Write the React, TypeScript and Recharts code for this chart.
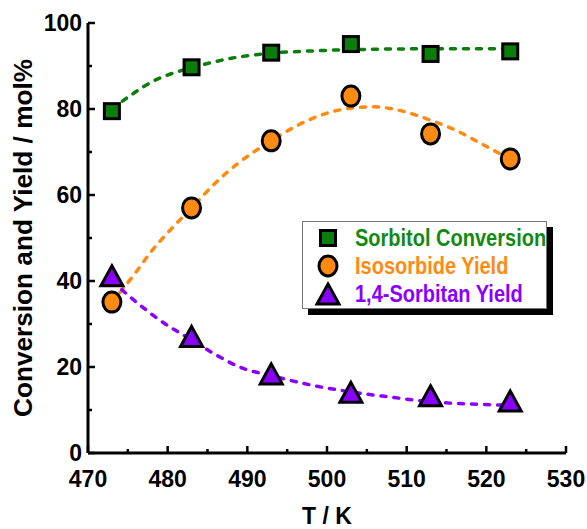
import { ComposedChart, Line, Scatter, XAxis, YAxis, Legend } from 'recharts'

// measured points
const temps = [473, 483, 493, 503, 513, 523]
const conversion = [79.5, 89.7, 93.1, 95.1, 92.8, 93.4]
const isosorbide = [35.1, 57.0, 72.6, 83.0, 74.2, 68.4]
const sorbitan = [41.2, 27.1, 18.4, 14.1, 13.3, 12.1]

// fitted curves
const convFitT = [473, 476, 478, 480, 483, 488, 493, 498, 503, 513, 523]
const convFitY = [80.0, 84.0, 86.3, 87.9, 89.6, 91.8, 93.0, 93.5, 93.8, 94.0, 94.0]
const isoFitT = [473, 476, 478, 480, 483, 486, 489, 493, 496, 499, 503, 506, 509, 513, 516, 519, 523]
const isoFitY = [35.0, 42.0, 47.0, 51.2, 57.0, 62.8, 67.6, 72.6, 75.9, 78.4, 80.2, 80.5, 79.7, 77.4, 75.2, 72.3, 68.3]
const sorbFitT = [473, 476, 479, 483, 486, 489, 493, 498, 503, 508, 513, 518, 523]
const sorbFitY = [40.0, 35.2, 30.9, 26.3, 22.9, 20.0, 18.0, 15.8, 14.2, 13.0, 11.9, 11.4, 11.1]

const xTicks = [470, 475, 480, 485, 490, 495, 500, 505, 510, 515, 520, 525, 530]
const yTicks = [0, 10, 20, 30, 40, 50, 60, 70, 80, 90, 100]

const GREEN = '#0a7d0a'
const ORANGE = '#ff8a12'
const PURPLE = '#8a00ff'
const FONT = '"Liberation Sans", Arial, sans-serif'

const pts = (xs: number[], ys: number[]) => xs.map((x, i) => ({ x, y: ys[i] }))

const Square = ({ cx, cy, size = 18, color = GREEN }: any) => (
  <rect x={cx - size / 2 + 1.5} y={cy - size / 2 + 1.5} width={size - 3} height={size - 3} fill={color} stroke="#000" strokeWidth={3} />
)
const Circle = ({ cx, cy, color = ORANGE }: any) => (
  <ellipse cx={cx} cy={cy} rx={9} ry={10} fill={color} stroke="#000" strokeWidth={3} />
)
const Triangle = ({ cx, cy, color = PURPLE }: any) => (
  <polygon points={`${cx},${cy - 10} ${cx + 11},${cy + 10} ${cx - 11},${cy + 10}`} fill={color} stroke="#000" strokeWidth={3} strokeLinejoin="miter" />
)

const XTick = ({ x, y, payload, top }: any) => {
  const major = payload.value % 10 === 0
  const len = major ? 7 : 4
  return (
    <g>
      <line x1={x} x2={x} y1={y} y2={top ? y + len : y - len} stroke="#000" strokeWidth={2.5} />
      {!top && major && (
        <text x={x} y={y + 34} textAnchor="middle" fontFamily={FONT} fontWeight="bold" fontSize={23} fill="#000">
          {payload.value}
        </text>
      )}
    </g>
  )
}

const YTick = ({ x, y, payload, right }: any) => {
  const major = payload.value % 20 === 0
  const len = major ? 7 : 4
  return (
    <g>
      <line x1={x} x2={right ? x - len : x + len} y1={y} y2={y} stroke="#000" strokeWidth={2.5} />
      {!right && major && (
        <text x={x - 6} y={y + 8} textAnchor="end" fontFamily={FONT} fontWeight="bold" fontSize={23} fill="#000">
          {payload.value}
        </text>
      )}
    </g>
  )
}

const legendItems = [
  { name: 'Sorbitol Conversion', color: '#128a12', Mark: Square },
  { name: 'Isosorbide Yield', color: ORANGE, Mark: Circle },
  { name: '1,4-Sorbitan Yield', color: PURPLE, Mark: Triangle },
]

const LegendBox = () => (
  <div
    style={{
      width: 243,
      height: 86,
      background: '#fff',
      border: '1px solid #777',
      boxShadow: '6px 6px 0 #000',
      position: 'relative',
      fontFamily: FONT,
      fontWeight: 'bold',
      fontSize: 20,
    }}
  >
    {legendItems.map((it, i) => (
      <div key={it.name} style={{ position: 'absolute', left: 0, top: 2 + i * 28, height: 28, display: 'flex', alignItems: 'center' }}>
        <svg width={50} height={28} style={{ display: 'block' }}>
          <it.Mark cx={25} cy={14} color={it.name.startsWith('Sorbitol') ? GREEN : it.color} />
        </svg>
        <span style={{ color: it.color, marginLeft: 2, whiteSpace: 'nowrap', display: 'inline-block', transform: 'scaleY(1.15)' }}>
          {it.name}
        </span>
      </div>
    ))}
  </div>
)

export default function App() {
  return (
    <div style={{ position: 'absolute', left: 0, top: 0 }}>
      <ComposedChart width={587} height={529} margin={{ top: 23, right: 21, bottom: 0, left: 0 }}>
        <XAxis
          xAxisId="b"
          dataKey="x"
          type="number"
          domain={[470, 530]}
          ticks={xTicks}
          interval={0}
          height={76}
          tickSize={0}
          tickMargin={0}
          tickLine={false}
          axisLine={{ stroke: '#000', strokeWidth: 3 }}
          tick={<XTick />}
          label={{
            content: () => (
              <text x={327} y={524} textAnchor="middle" fontFamily={FONT} fontWeight="bold" fontSize={23} fill="#000">
                T / K
              </text>
            ),
          }}
        />
        <XAxis
          xAxisId="t"
          orientation="top"
          dataKey="x"
          type="number"
          domain={[470, 530]}
          ticks={xTicks}
          interval={0}
          height={0}
          tickSize={0}
          tickMargin={0}
          tickLine={false}
          axisLine={{ stroke: '#000', strokeWidth: 3 }}
          tick={<XTick top />}
        />
        <YAxis
          yAxisId="l"
          type="number"
          domain={[0, 100]}
          ticks={yTicks}
          interval={0}
          width={88}
          tickSize={0}
          tickMargin={0}
          tickLine={false}
          axisLine={{ stroke: '#000', strokeWidth: 3 }}
          tick={<YTick />}
          label={{
            content: () => (
              <text
                x={0}
                y={0}
                transform="translate(32,238) rotate(-90)"
                textAnchor="middle"
                textLength={358}
                lengthAdjust="spacingAndGlyphs"
                fontFamily={FONT}
                fontWeight="bold"
                fontSize={26}
                fill="#000"
              >
                Conversion and Yield / mol%
              </text>
            ),
          }}
        />
        <YAxis
          yAxisId="r"
          orientation="right"
          type="number"
          domain={[0, 100]}
          ticks={yTicks}
          interval={0}
          width={0}
          tickSize={0}
          tickMargin={0}
          tickLine={false}
          axisLine={{ stroke: '#000', strokeWidth: 3 }}
          tick={<YTick right />}
        />
        <Legend
          layout="vertical"
          align="center"
          verticalAlign="middle"
          content={<LegendBox />}
          wrapperStyle={{ position: 'absolute', left: 302, top: 221, width: 245, height: 88 }}
        />
        <Line xAxisId="b" yAxisId="l" data={pts(convFitT, convFitY)} dataKey="y" type="monotone" stroke={GREEN} strokeWidth={3.5} strokeDasharray="5 8" strokeLinecap="round" dot={false} activeDot={false} legendType="none" isAnimationActive={false} />
        <Line xAxisId="b" yAxisId="l" data={pts(isoFitT, isoFitY)} dataKey="y" type="monotone" stroke={ORANGE} strokeWidth={3.5} strokeDasharray="5 8" strokeLinecap="round" dot={false} activeDot={false} legendType="none" isAnimationActive={false} />
        <Line xAxisId="b" yAxisId="l" data={pts(sorbFitT, sorbFitY)} dataKey="y" type="monotone" stroke={PURPLE} strokeWidth={3.5} strokeDasharray="5 8" strokeLinecap="round" dot={false} activeDot={false} legendType="none" isAnimationActive={false} />
        <Scatter xAxisId="b" yAxisId="l" data={pts(temps, conversion)} dataKey="y" shape={(p: any) => <Square cx={p.cx} cy={p.cy} />} isAnimationActive={false} />
        <Scatter xAxisId="b" yAxisId="l" data={pts(temps, isosorbide)} dataKey="y" shape={(p: any) => <Circle cx={p.cx} cy={p.cy} />} isAnimationActive={false} />
        <Scatter xAxisId="b" yAxisId="l" data={pts(temps, sorbitan)} dataKey="y" shape={(p: any) => <Triangle cx={p.cx} cy={p.cy} />} isAnimationActive={false} />
      </ComposedChart>
    </div>
  )
}
